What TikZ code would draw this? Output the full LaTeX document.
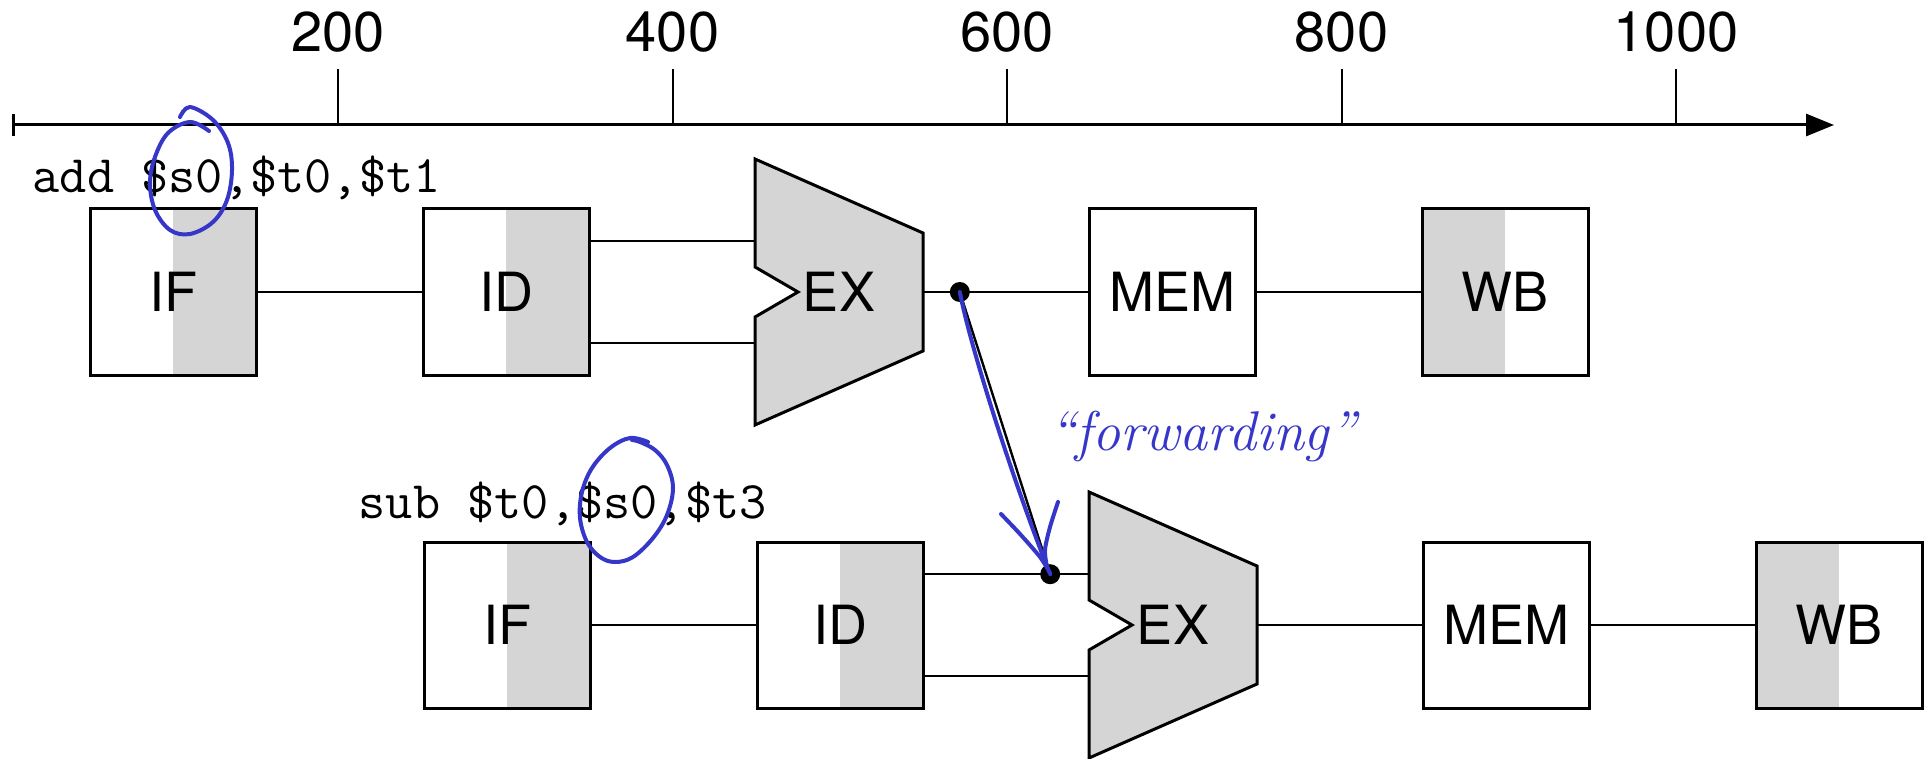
\documentclass[tikz,border=0pt]{standalone}
\usepackage{fontspec}
\setsansfont{TeX Gyre Heros}
\usepackage{tikz}
\usetikzlibrary{arrows.meta,positioning,calc,backgrounds}
\definecolor{stagegray}{HTML}{D5D5D5}
\definecolor{penblue}{HTML}{3636C8}
\newcommand{\stagefont}{\fontsize{13.5}{16}\selectfont\sffamily}

\begin{document}
\begin{tikzpicture}[
  x=0.25pt, y=-0.25pt,
  font=\stagefont, >=Latex,
  stage/.style={draw, line width=0.75pt, minimum width=41.5pt, minimum height=41.5pt, inner sep=0pt},
  rdhalf/.style={stage, path picture={\fill[stagegray] (path picture bounding box.north) rectangle (path picture bounding box.south east);}},
  wrhalf/.style={stage, path picture={\fill[stagegray] (path picture bounding box.north west) rectangle (path picture bounding box.south);}},
  alu/.style={minimum width=42pt, minimum height=25pt, inner sep=0pt},
  alubody/.style={draw, fill=stagegray, line width=0.75pt},
  wire/.style={line width=0.6pt},
  dot/.style={circle, fill, inner sep=0pt, minimum size=5pt},
  instr/.style={font=\fontsize{13.2}{16}\selectfont\ttfamily, anchor=base west, inner sep=0pt},
  ink/.style={penblue, line width=1pt, line cap=round, line join=round},
]
  \useasboundingbox (0,0) rectangle (1927,759);
  % time axis
  \draw[line width=0.75pt, {Bar[width=5.5pt]}-{Triangle[length=7pt,width=5.5pt]}] (12,125) -- (1834,125);
  \foreach \t [count=\i from 0] in {200,400,600,800,1000}
    \draw[line width=0.5pt] (338+334.5*\i,125) -- ++(0,-56)
      node[above=4pt, inner sep=0pt, font=\fontsize{14}{16}\selectfont\sffamily] (tick\t) {\t};

  % two instructions, one stage apart
  \foreach \r/\x/\y in {1/173/292, 2/507/625} {
    \node[rdhalf] (if\r) at (\x,\y) {IF};
    \node[rdhalf] (id\r) at (\x+333,\y) {ID};
    \node[alu] (ex\r) at (\x+666,\y) {EX};
    \node[stage] (mem\r) at (\x+999,\y) {MEM};
    \node[wrhalf] (wb\r) at (\x+1332,\y) {WB};
    \begin{scope}[on background layer]
      \draw[alubody] ($(ex\r.center)+(-84,-133)$) -- ++(168,74) -- ++(0,118) -- ++(-168,74)
        -- ++(0,-108) -- ++(43,-25) -- ++(-43,-25) -- cycle;
    \end{scope}
    \draw[wire] (if\r) -- (id\r);
    \draw[wire] (id\r.east |- ex\r.north west) -- (ex\r.north west);
    \draw[wire] (id\r.east |- ex\r.south west) -- (ex\r.south west);
    \draw[wire] (ex\r) -- (mem\r);
    \draw[wire] (mem\r) -- (wb\r);
  }
  \node[instr] (addi) at (32,193) {add \$s0,\$t0,\$t1};
  \node[instr] (subi) at (358,518) {sub \$t0,\$s0,\$t3};

  \node[dot] (fwdsrc) at ($(ex1.east)+(36,0)$) {};
  \node[dot] (fwddst) at ($(ex2.north west)+(-38,0)$) {};
  \draw[wire] (fwdsrc.center) -- (fwddst.center);

  % pen notes
  \draw[ink] plot[smooth, tension=0.6] coordinates {(180,117) (190,107) (213,120) (228,143) (232,170) (227,200) (213,222) (190,234) (170,230) (155,210) (150,183) (155,157) (168,133) (190,122) (209,131)};
  \draw[ink] plot[smooth, tension=0.6] coordinates {(648,442) (630,438) (610,448) (592,468) (582,492) (580,518) (587,542) (600,557) (615,562) (633,557) (653,538) (667,515) (673,488) (667,465) (655,450) (640,442) (632,440)};
  \draw[ink] (fwdsrc.center) .. controls (972,355) and (1020,500) .. (fwddst.center);
  \draw[ink] plot[smooth] coordinates {(1001,514) (1020,534) (1040,557) (1050,573)};
  \draw[ink] plot[smooth] coordinates {(1058,502) (1050,527) (1045,550) (1047,567)};
  \node[ink, font=\fontsize{14}{16}\selectfont\rmfamily\itshape, anchor=base west, inner sep=0pt] (fwdnote) at (1047,450) {``forwarding''};
\end{tikzpicture}
\end{document}
